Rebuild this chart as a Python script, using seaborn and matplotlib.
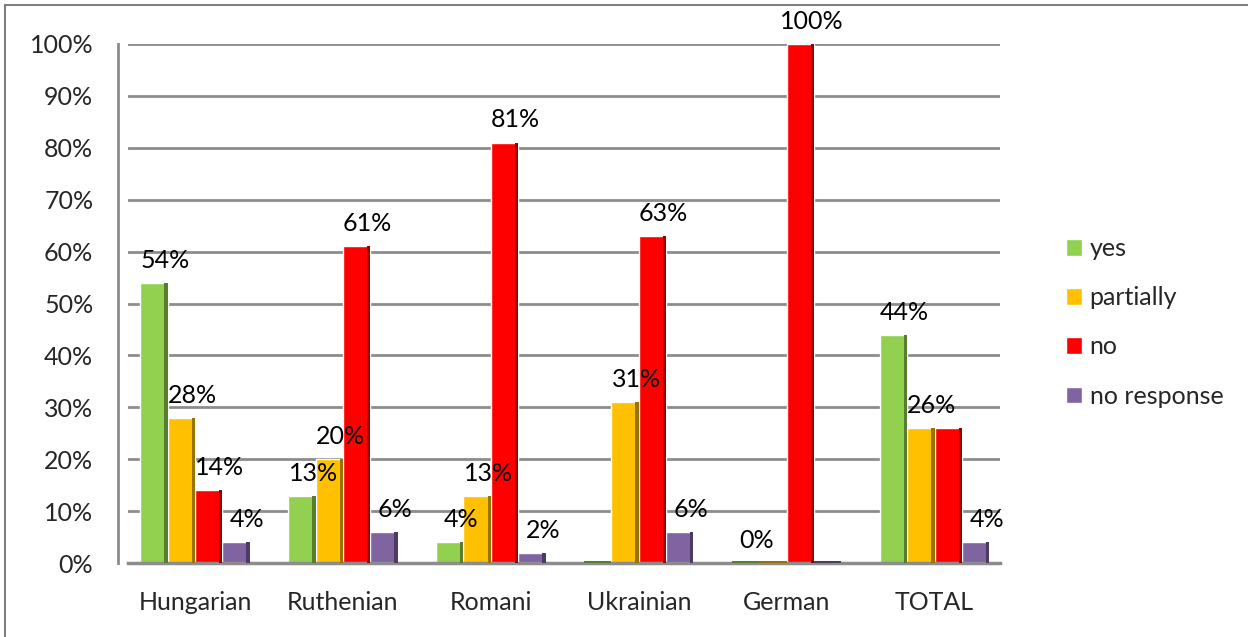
import numpy as np
import pandas as pd
import seaborn as sns
import matplotlib.pyplot as plt
from matplotlib.lines import Line2D
from matplotlib.patches import Rectangle
import matplotlib.colors as mcolors

# Chart data (percent)
groups = ["Hungarian", "Ruthenian", "Romani", "Ukrainian", "German", "TOTAL"]
responses = ["yes", "partially", "no", "no response"]
yes = [54, 13, 4, 0, 0, 44]
partially = [28, 20, 13, 31, 0, 26]
no = [14, 61, 81, 63, 100, 26]
no_response = [4, 6, 2, 6, 0, 4]

# data labels as shown in the original (blank = not shown)
yes_labels = ["54%", "13%", "4%", "", "0%", "44%"]
partially_labels = ["28%", "20%", "13%", "31%", "", "26%"]
no_labels = ["14%", "61%", "81%", "63%", "100%", ""]
no_response_labels = ["4%", "6%", "2%", "6%", "", "4%"]

colors = ["#92D050", "#FFC000", "#FF0000", "#8064A2"]

rows = []
for resp, vals in zip(responses, [yes, partially, no, no_response]):
    for g, v in zip(groups, vals):
        rows.append({"group": g, "response": resp, "value": v})
df = pd.DataFrame(rows)
labels = [yes_labels, partially_labels, no_labels, no_response_labels]

sns.set_style("white")
plt.rcParams['font.family'] = ['Lato', 'DejaVu Sans']
fs = 18

fig = plt.figure(figsize=(12.48, 6.37), dpi=100)
ax = fig.add_axes([0.1026, 0.116, 0.6984, 0.815])

sns.barplot(data=df, x="group", y="value", hue="response", palette=colors,
            width=0.74, gap=0, ax=ax, saturation=1, legend=True)

# darker side strip for a little depth, plus data labels
for cont, lab, col in zip(ax.containers, labels, colors):
    dark = np.array(mcolors.to_rgb(col)) * 0.6
    for bar, text in zip(cont, lab):
        x0, w, h = bar.get_x(), bar.get_width(), bar.get_height()
        if h > 0:
            ax.add_patch(Rectangle((x0 + w * 0.88, 0), w * 0.12, h,
                                   facecolor=dark, edgecolor="none", zorder=3))
        else:
            ax.add_patch(Rectangle((x0, 0), w, 0.5, facecolor=dark,
                                   edgecolor="none", zorder=3))
        if text:
            ax.annotate(text, (x0 + w / 2, h), xytext=(8, 8),
                        textcoords="offset points", ha="center", va="bottom",
                        fontsize=fs, color="black", clip_on=False)

ax.set_xlim(-0.453, 5.44)
ax.set_ylim(0, 100)
ax.set_yticks(range(0, 101, 10))
ax.set_yticklabels([f"{v}%" for v in range(0, 101, 10)])
ax.set_xlabel("")
ax.set_ylabel("")
ax.yaxis.grid(True, color="#8c8c8c", linewidth=2)
ax.set_axisbelow(True)

for s in ["top", "right"]:
    ax.spines[s].set_visible(False)
ax.spines["left"].set_position(("outward", 7))
ax.spines["left"].set_color("#8c8c8c")
ax.spines["left"].set_linewidth(2)
ax.spines["bottom"].set_color("#8c8c8c")
ax.spines["bottom"].set_linewidth(2.5)

ax.tick_params(axis="y", direction="in", length=7, width=1.5, color="#8c8c8c",
               pad=18, labelsize=fs)
ax.tick_params(axis="x", length=0, pad=20, labelsize=fs)

handles, _ = ax.get_legend_handles_labels()
ax.legend(handles, responses, loc="center left", bbox_to_anchor=(0.836, 0.494),
          bbox_transform=fig.transFigure, frameon=False, fontsize=fs,
          handlelength=0.65, handleheight=0.65, handletextpad=0.3,
          labelspacing=1.05)

# outer frame fragment (left and top edges)
fig.add_artist(Line2D([0.004, 0.004], [0, 0.992], transform=fig.transFigure,
                      color="#7f7f7f", linewidth=1.5))
fig.add_artist(Line2D([0.004, 1], [0.992, 0.992], transform=fig.transFigure,
                      color="#7f7f7f", linewidth=1.5))

fig.savefig("out.png", dpi=100, facecolor="white")
